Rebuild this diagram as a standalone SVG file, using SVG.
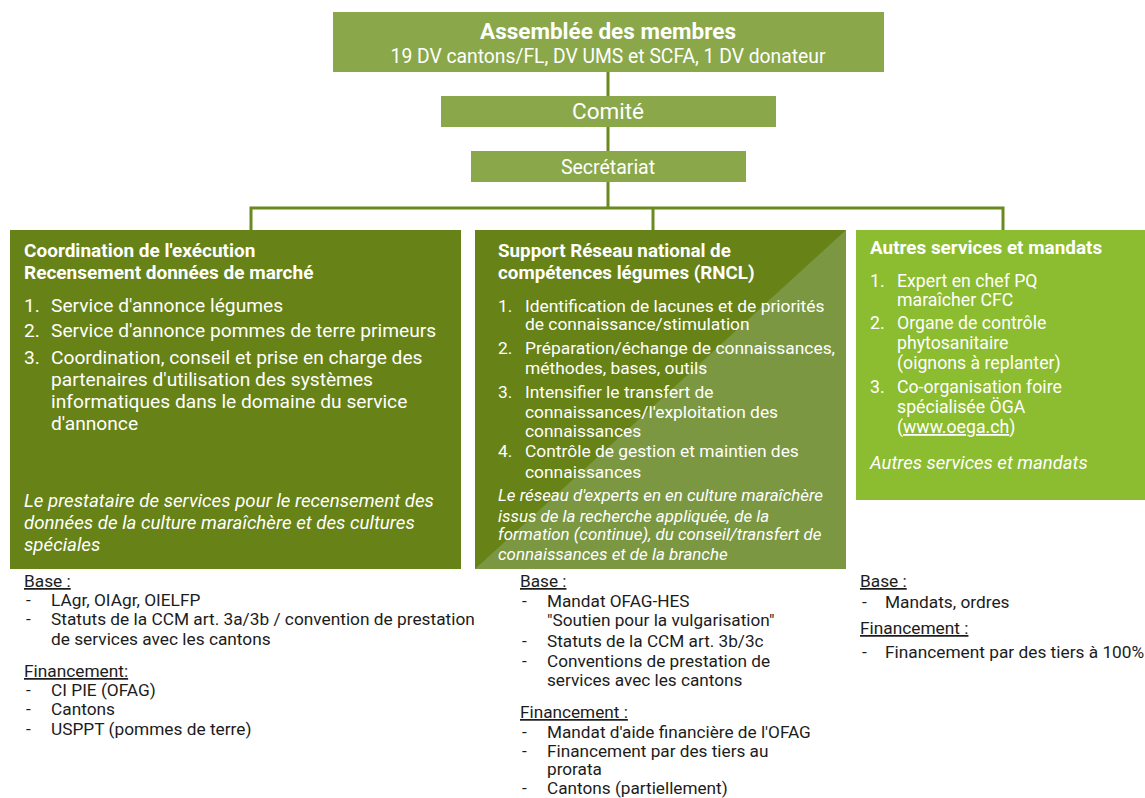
<svg xmlns="http://www.w3.org/2000/svg" width="1145" height="798" viewBox="0 0 1145 798">
<style>
text{font-family:Roboto,"Liberation Sans",Arial,sans-serif;}
.w{fill:#ffffff;}
.b{font-weight:bold;}
.i{font-style:italic;}
.d{fill:#1c1c1c;}
.u{text-decoration:underline;}
.top{fill:#8aa84a;}
.dark{fill:#678216;}
.lime{fill:#8cbc30;}
.conn{stroke:#6a8a1f;stroke-width:3;fill:none;}
</style>
<rect width="1145" height="798" fill="#ffffff"/>
<g id="connectors">
<path class="conn" d="M608 72 V208"/>
<path class="conn" d="M251 230 V208 H1003 V230"/>
<path class="conn" d="M653 208 V230"/>
</g>
<g id="assemblee">
<rect class="top" x="333" y="12" width="551" height="60"/>
<text class="w b" x="608" y="39" font-size="22.5" text-anchor="middle">Assemblée des membres</text>
<text class="w" x="608" y="63" font-size="19.3" text-anchor="middle">19 DV cantons/FL, DV UMS et SCFA, 1 DV donateur</text>
</g>
<g id="comite">
<rect class="top" x="441" y="96" width="335" height="31"/>
<text class="w" x="608" y="119" font-size="22.5" text-anchor="middle">Comité</text>
</g>
<g id="secretariat">
<rect class="top" x="471" y="151" width="275" height="31"/>
<text class="w" x="608" y="174" font-size="19.5" text-anchor="middle">Secrétariat</text>
</g>
<g id="coordination">
<rect class="dark" x="10" y="230" width="451" height="339"/>
<text class="w b" font-size="19"><tspan x="24" y="257">Coordination de l'exécution</tspan><tspan x="24" y="279">Recensement données de marché</tspan></text>
<g class="w" font-size="19.2">
<text x="24" y="312">1.</text><text x="51" y="312">Service d'annonce légumes</text>
<text x="24" y="337">2.</text><text x="51" y="337">Service d'annonce pommes de terre primeurs</text>
<text x="24" y="364">3.</text><text x="51" y="364">Coordination, conseil et prise en charge des</text>
<text x="51" y="386">partenaires d'utilisation des systèmes</text>
<text x="51" y="408">informatiques dans le domaine du service</text>
<text x="51" y="430">d'annonce</text>
</g>
<text class="w i" font-size="18.7"><tspan x="24" y="507">Le prestataire de services pour le recensement des</tspan><tspan x="24" y="529">données de la culture maraîchère et des cultures</tspan><tspan x="24" y="551">spéciales</tspan></text>
</g>
<g id="rncl">
<rect class="dark" x="475" y="230" width="371" height="339"/>
<polygon points="846,230 846,569 475,569" fill="#7b9742"/>
<text class="w b" font-size="18.8"><tspan x="498" y="257">Support Réseau national de</tspan><tspan x="498" y="279">compétences légumes (RNCL)</tspan></text>
<g class="w" font-size="17.4">
<text x="498" y="312">1.</text><text x="525" y="312">Identification de lacunes et de priorités</text>
<text x="525" y="330">de connaissance/stimulation</text>
<text x="498" y="354">2.</text><text x="525" y="354">Préparation/échange de connaissances,</text>
<text x="525" y="374">méthodes, bases, outils</text>
<text x="498" y="398">3.</text><text x="525" y="398">Intensifier le transfert de</text>
<text x="525" y="418">connaissances/l'exploitation des</text>
<text x="525" y="437">connaissances</text>
<text x="498" y="457">4.</text><text x="525" y="457">Contrôle de gestion et maintien des</text>
<text x="525" y="478">connaissances</text>
</g>
<text class="w i" font-size="16.9"><tspan x="498" y="501">Le réseau d'experts en en culture maraîchère</tspan><tspan x="498" y="522">issus de la recherche appliquée, de la</tspan><tspan x="498" y="540">formation (continue), du conseil/transfert de</tspan><tspan x="498" y="560">connaissances et de la branche</tspan></text>
</g>
<g id="autres">
<rect class="lime" x="856" y="230" width="289" height="270"/>
<text class="w b" x="870" y="254" font-size="18.9">Autres services et mandats</text>
<g class="w" font-size="17.7">
<text x="870" y="287">1.</text><text x="897" y="287">Expert en chef PQ</text>
<text x="897" y="306">maraîcher CFC</text>
<text x="870" y="329">2.</text><text x="897" y="329">Organe de contrôle</text>
<text x="897" y="349">phytosanitaire</text>
<text x="897" y="369">(oignons à replanter)</text>
<text x="870" y="393">3.</text><text x="897" y="393">Co-organisation foire</text>
<text x="897" y="413">spécialisée ÖGA</text>
<text x="897" y="433">(<tspan class="u">www.oega.ch</tspan>)</text>
</g>
<text class="w i" x="870" y="469" font-size="18.5">Autres services et mandats</text>
</g>
<g id="base-coordination" class="d" font-size="17.3">
<text class="u" x="24" y="587">Base :</text>
<text x="26" y="606">-</text><text x="51" y="606">LAgr, OIAgr, OIELFP</text>
<text x="26" y="625">-</text><text x="51" y="625">Statuts de la CCM art. 3a/3b / convention de prestation</text>
<text x="51" y="645">de services avec les cantons</text>
<text class="u" x="24" y="677">Financement:</text>
<text x="26" y="696">-</text><text x="51" y="696">CI PIE (OFAG)</text>
<text x="26" y="715">-</text><text x="51" y="715">Cantons</text>
<text x="26" y="735">-</text><text x="51" y="735">USPPT (pommes de terre)</text>
</g>
<g id="base-rncl" class="d" font-size="17.2">
<text class="u" x="520" y="587">Base :</text>
<text x="522" y="607">-</text><text x="547" y="607">Mandat OFAG-HES</text>
<text x="547" y="626">"Soutien pour la vulgarisation"</text>
<text x="522" y="647">-</text><text x="547" y="647">Statuts de la CCM art. 3b/3c</text>
<text x="522" y="667">-</text><text x="547" y="667">Conventions de prestation de</text>
<text x="547" y="686">services avec les cantons</text>
<text class="u" x="520" y="718">Financement :</text>
<text x="522" y="738">-</text><text x="547" y="738">Mandat d'aide financière de l'OFAG</text>
<text x="522" y="757">-</text><text x="547" y="757">Financement par des tiers au</text>
<text x="547" y="775">prorata</text>
<text x="522" y="794">-</text><text x="547" y="794">Cantons (partiellement)</text>
</g>
<g id="base-autres" class="d" font-size="17.3">
<text class="u" x="860" y="587">Base :</text>
<text x="862" y="608">-</text><text x="885" y="608">Mandats, ordres</text>
<text class="u" x="860" y="634">Financement :</text>
<text x="862" y="658">-</text><text x="885" y="658">Financement par des tiers à 100%</text>
</g>
</svg>
